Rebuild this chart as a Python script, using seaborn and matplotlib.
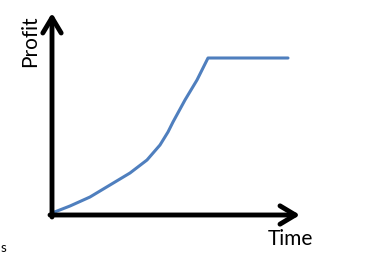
import matplotlib
matplotlib.use("Agg")
import matplotlib.pyplot as plt
import seaborn as sns
import pandas as pd

# Data (arbitrary units)
time = [0, 18, 38, 58, 78, 95, 108, 116, 121, 133, 145, 156, 236]
profit = [2, 9, 18, 30, 42, 55, 70, 83, 93, 115, 135, 157, 157]
x_label = "Time"
y_label = "Profit"
stray_text = "s"

sns.set_style("white")
plt.rcParams['font.family'] = ['Lato', 'DejaVu Sans']

fig = plt.figure(figsize=(3.92, 2.71), dpi=100)
ax = fig.add_axes([0, 0, 1, 1])
df = pd.DataFrame({"time": time, "profit": profit})
sns.lineplot(data=df, x="time", y="profit", ax=ax, color="#4F7FBE", lw=2.2, sort=False)
ax.set_xlim(-52, 340)
ax.set_ylim(-56, 215)
ax.axis("off")

arrow = dict(arrowstyle="->,head_length=0.55,head_width=0.33", lw=3.5, color="black",
             shrinkA=0, shrinkB=0, mutation_scale=20)
ax.annotate("", xy=(0, 202), xytext=(0, -2), arrowprops=arrow)
ax.annotate("", xy=(248, 0), xytext=(-2, 0), arrowprops=arrow)

ax.text(-22, 174, y_label, rotation=90, ha="center", va="center", fontsize=15, color="black")
ax.text(238, -24, x_label, ha="center", va="center", fontsize=15, color="black")
ax.text(-49, -33, stray_text, ha="center", va="center", fontsize=9.5, color="black")

fig.savefig("out.png", dpi=100)
